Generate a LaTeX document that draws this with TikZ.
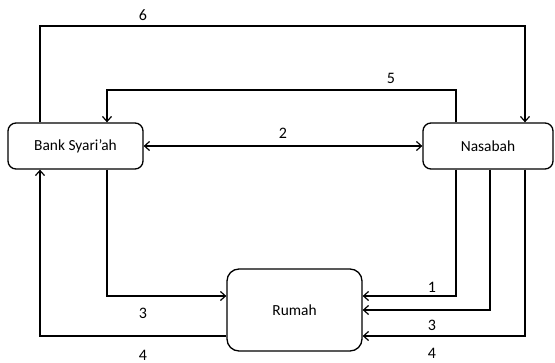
\documentclass[tikz,border=0pt]{standalone}
\usepackage{fontspec}
\setmainfont{Carlito}
\usetikzlibrary{arrows.meta}
\begin{document}
\begin{tikzpicture}[x=1pt,y=-1pt,
  box/.style={draw,line width=1.3pt,rounded corners=8pt,font=\fontsize{15.4}{18}\selectfont,inner sep=0pt},
  conn/.style={line width=1.3pt,-{Straight Barb[length=5pt,width=9pt,line width=1.2pt]}},
  lbl/.style={font=\fontsize{16}{18}\selectfont,inner sep=0pt}]
\useasboundingbox (0,0) rectangle (555,363);
\node[box,minimum width=135pt,minimum height=46pt] (bank) at (75.5,146) {Bank Syari’ah};
\node[box,minimum width=130pt,minimum height=46pt] (nas) at (488,146) {Nasabah};
\node[box,rounded corners=12pt,minimum width=135pt,minimum height=82pt] (rum) at (294.5,310) {Rumah};
% column coordinates
\coordinate (xa) at (40,0);
\coordinate (xb) at (107,0);
\coordinate (xc) at (456,0);
\coordinate (xd) at (490,0);
\coordinate (xe) at (525,0);
\coordinate (y6) at (0,26);
\coordinate (y5) at (0,90);
\coordinate (y3) at (0,296);
\coordinate (y4) at (0,336);
\coordinate (yd) at (0,310);
% 6
\draw[conn] (xa |- bank.north) -- (xa |- y6) -- (xe |- y6) -- (xe |- nas.north);
\node[lbl] (l6) at (143,15) {6};
% 5
\draw[conn] (xc |- nas.north) -- (xc |- y5) -- (xb |- y5) -- (xb |- bank.north);
\node[lbl] (l5) at (391,78) {5};
% 2
\draw[line width=1.3pt,{Straight Barb[length=5pt,width=9pt,line width=1.2pt]}-{Straight Barb[length=5pt,width=9pt,line width=1.2pt]}] (bank.east) -- (nas.west);
\node[lbl] (l2) at (283,133) {2};
% 3 left
\draw[conn] (xb |- bank.south) -- (xb |- y3) -- (rum.west |- y3);
\node[lbl] (l3a) at (143,313) {3};
% 4 left
\draw[conn] (rum.west |- y4) -- (xa |- y4) -- (xa |- bank.south);
\node[lbl] (l4a) at (143,355) {4};
% right side
\draw[conn] (xc |- nas.south) -- (xc |- y3) -- (rum.east |- y3);
\node[lbl] (l1) at (432,287) {1};
\draw[conn] (xd |- nas.south) -- (xd |- yd) -- (rum.east |- yd);
\node[lbl] (l3b) at (432,325) {3};
\draw[conn] (xe |- nas.south) -- (xe |- y4) -- (rum.east |- y4);
\node[lbl] (l4b) at (432,353) {4};
\end{tikzpicture}
\end{document}
